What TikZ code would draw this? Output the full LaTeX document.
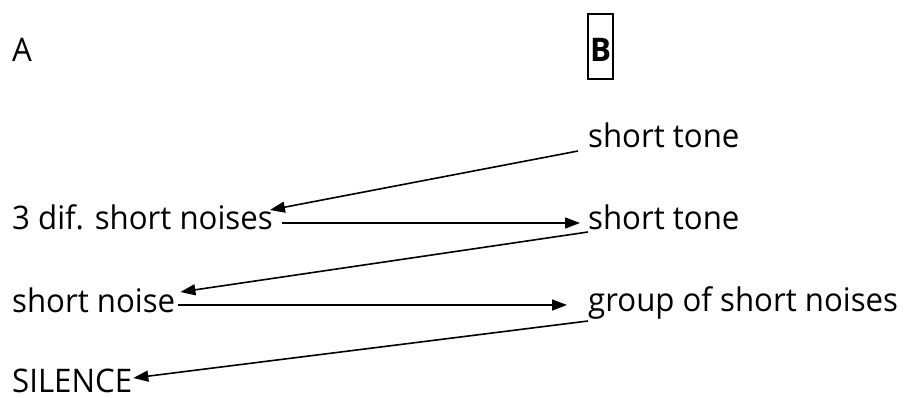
\documentclass[tikz,border=0pt]{standalone}
\usepackage{fontspec}
\setmainfont{Open Sans}[FakeStretch=0.96]
\usetikzlibrary{arrows.meta,calc}
\begin{document}
\begin{tikzpicture}[x=1pt,y=-1pt,
  lbl/.style={anchor=base west,inner sep=0pt,font=\fontsize{32.5}{38}\selectfont},
  arr/.style={line width=1.6pt,-{Triangle[length=15pt,width=11pt]}}]
\useasboundingbox (0,0) rectangle (906,398);
\node[lbl] (A) at (12,62) {A};
\node[draw,line width=1.3pt,minimum width=25pt,minimum height=65pt,inner sep=0pt] (Bbox) at (600.5,46.5) {};
\node[anchor=base,inner sep=0pt,font=\fontsize{32.5}{38}\selectfont\bfseries] (B) at (600.5,62) {B};
\node[lbl] (t1) at (588,148) {short tone};
\node[lbl] (n3) at (12,230) {3 dif. short noises};
\node[lbl] (t2) at (588,230) {short tone};
\node[lbl] (n1) at (12,313) {short noise};
\node[lbl] (g) at (588,312) {group of short noises};
\node[lbl] (s) at (12,392) {SILENCE};
\draw[arr] ($(t1.base west)+(-10,3)$) -- ($(n3.base east)+(-3,-20)$);
\draw[arr] ($(n3.base east)+(9,-7)$) -- ($(t2.base west)+(-8,-7)$);
\draw[arr] ($(t2.base west)+(0,2)$) -- ($(n1.base east)+(5,-21)$);
\draw[arr] ($(n1.base east)+(3,-8)$) -- ($(g.base west)+(-21,-7)$);
\draw[arr] ($(g.base west)+(0,9)$) -- ($(s.base east)+(1,-14)$);
\end{tikzpicture}
\end{document}
